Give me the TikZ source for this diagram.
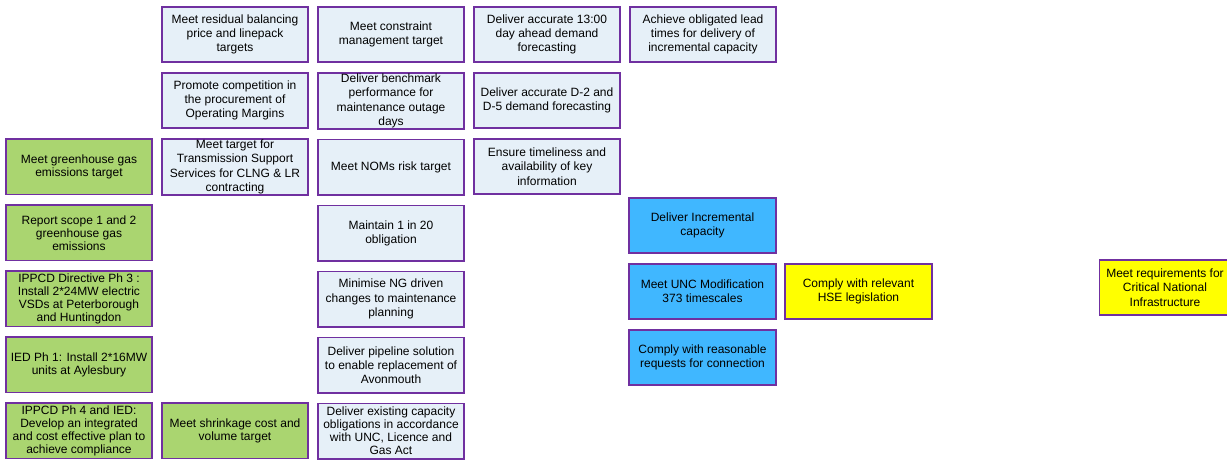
\documentclass[tikz,border=0pt]{standalone}
\usepackage{fontspec}
\setmainfont{Liberation Sans}
\usepackage{xcolor}
\usepackage{tikz}
\usetikzlibrary{positioning}
\definecolor{frame}{RGB}{112,48,160}
\definecolor{paleblue}{RGB}{230,240,248}
\definecolor{leaf}{RGB}{170,213,112}
\definecolor{sky}{RGB}{64,183,255}
\definecolor{lemon}{RGB}{255,255,0}

\begin{document}
\begin{tikzpicture}[
  x=1pt, y=1pt,
  node distance=8.9pt and 7.9pt,
  box/.style={draw=frame, line width=1.6pt, fill=paleblue, align=center,
              inner sep=1pt, minimum width=146.5pt, minimum height=55.5pt,
              font=\fontsize{12pt}{14.3pt}\selectfont},
  tight/.style={font=\fontsize{12pt}{13pt}\selectfont},
  green/.style={box, tight, fill=leaf},
  blue/.style={box, fill=sky},
  yellow/.style={box, fill=lemon}
]
  \useasboundingbox (0,0) rectangle (1227,-460);

  \node[box] (resid) at (235,-34.5) {Meet residual balancing\\price and linepack\\targets};
  \node[box, right=of resid] (constr) {Meet constraint\\management target};
  \node[box, right=of constr] (dayahead) {Deliver accurate 13:00\\day ahead demand\\forecasting};
  \node[box, right=of dayahead] (leadtime) {Achieve obligated lead\\times for delivery of\\incremental capacity};

  \node[box, below=of resid] (compet) {Promote competition in\\the procurement of\\Operating Margins};
  \node[box, below=of constr] (bench) {Deliver benchmark\\performance for\\maintenance outage\\days};
  \node[box, below=of dayahead] (dtwo) {Deliver accurate D-2 and\\D-5 demand forecasting};

  \node[box, below=of compet] (tss) {Meet target for\\Transmission Support\\Services for CLNG \& LR\\contracting};
  \node[box, below=of bench] (noms) {Meet NOMs risk target};
  \node[box, below=of dtwo] (keyinfo) {Ensure timeliness and\\availability of key\\information};

  \node[green, left=of tss] (ghg) {Meet greenhouse gas\\emissions target};
  \node[green, below=of ghg] (scope) {Report scope 1 and 2\\greenhouse gas\\emissions};
  \node[green, below=of scope] (ippcthree) {IPPCD Directive Ph 3 :\\Install 2*24MW electric\\VSDs at Peterborough\\and Huntingdon};
  \node[green, below=of ippcthree] (iedone) {IED Ph 1: Install 2*16MW\\units at Aylesbury};
  \node[green, below=of iedone] (ippcfour) {IPPCD Ph 4 and IED:\\Develop an integrated\\and cost effective plan to\\achieve compliance};
  \node[green, right=of ippcfour] (shrink) {Meet shrinkage cost and\\volume target};

  \node[box, below=of noms] (oneintwenty) {Maintain 1 in 20\\obligation};
  \node[box, below=of oneintwenty] (minimise) {Minimise NG driven\\changes to maintenance\\planning};
  \node[box, below=of minimise] (pipeline) {Deliver pipeline solution\\to enable replacement of\\Avonmouth};
  \node[box, tight, below=of pipeline] (existing) {Deliver existing capacity\\obligations in accordance\\with UNC, Licence and\\Gas Act};

  \node[blue] (incr) at (702.5,-225.5) {Deliver Incremental\\capacity};
  \node[blue, below=of incr] (unc) {Meet UNC Modification\\373 timescales};
  \node[blue, below=of unc] (reasonable) {Comply with reasonable\\requests for connection};
  \node[yellow, right=of unc] (hse) {Comply with relevant\\HSE legislation};

  \node[yellow, minimum width=131pt] (cni) at (1165,-287.5) {Meet requirements for\\Critical National\\Infrastructure};
\end{tikzpicture}
\end{document}
